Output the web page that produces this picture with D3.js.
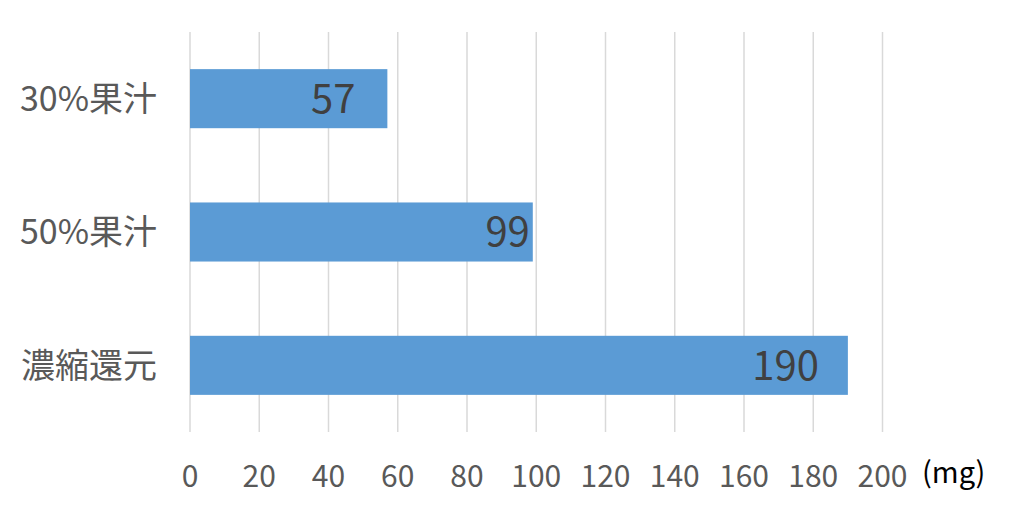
<!DOCTYPE html>
<html><head><meta charset="utf-8">
<script src="https://cdn.jsdelivr.net/npm/d3@7"></script>
<style>body{margin:0;background:#fff}svg{display:block}</style>
</head><body><svg id="c" width="1024" height="515"></svg>
<script>
const categories = ["30%果汁", "50%果汁", "濃縮還元"];
const values = [57, 99, 190];
const xTicks = [0, 20, 40, 60, 80, 100, 120, 140, 160, 180, 200];
const unitLabel = "(mg)";

const svg = d3.select("#c");
const font = "'Noto Sans CJK JP', 'Noto Sans', sans-serif";
const x = d3.scaleLinear().domain([0, 200]).range([190, 882.5]);
const y = d3.scaleBand().domain(categories).range([32, 432]).paddingInner(0.557).paddingOuter(0.2785);

// label placement insets (px from bar end), as positioned in the original
const labelInset = { "30%果汁": 32, "50%果汁": 3, "濃縮還元": 29 };

svg.append("g").selectAll("line").data(xTicks).join("line")
  .attr("x1", d => x(d)).attr("x2", d => x(d)).attr("y1", 32).attr("y2", 432)
  .attr("stroke", "#d9d9d9").attr("stroke-width", 1.5);

svg.append("g").selectAll("rect").data(values).join("rect")
  .attr("x", x(0)).attr("y", (d, i) => y(categories[i]))
  .attr("width", d => x(d) - x(0)).attr("height", y.bandwidth())
  .attr("fill", "#5b9bd5");

svg.append("g").selectAll("text").data(values).join("text")
  .attr("x", (d, i) => x(d) - labelInset[categories[i]]).attr("y", (d, i) => y(categories[i]) + y.bandwidth() / 2)
  .attr("dy", "0.36em").attr("text-anchor", "end")
  .attr("font-family", font).attr("font-size", 40).attr("fill", "#404040")
  .text(d => d);

svg.append("g").selectAll("text").data(categories).join("text")
  .attr("x", 157).attr("y", d => y(d) + y.bandwidth() / 2)
  .attr("dy", "0.36em").attr("text-anchor", "end")
  .attr("font-family", font).attr("font-size", 34).attr("fill", "#595959")
  .text(d => d);

svg.append("g").selectAll("text").data(xTicks).join("text")
  .attr("x", d => x(d)).attr("y", 487)
  .attr("text-anchor", "middle")
  .attr("font-family", font).attr("font-size", 30).attr("fill", "#595959")
  .text(d => d);

svg.append("text").attr("x", 922).attr("y", 483)
  .attr("font-family", font).attr("font-size", 29).attr("fill", "#000")
  .text(unitLabel);
</script></body></html>
